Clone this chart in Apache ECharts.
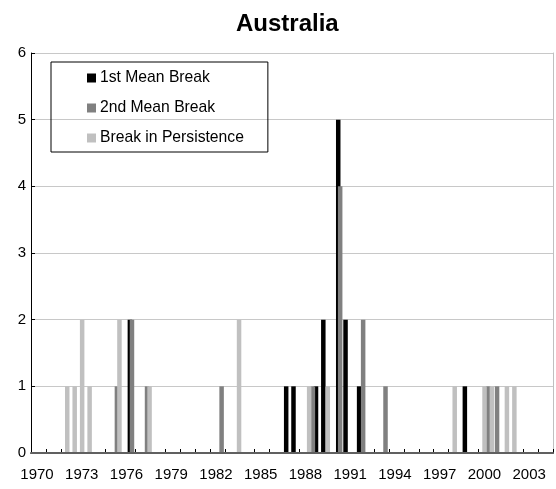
<!DOCTYPE html>
<html>
<head>
<meta charset="utf-8">
<script src="https://cdn.jsdelivr.net/npm/echarts@6/dist/echarts.min.js"></script>
<style>
html,body{margin:0;padding:0;background:#fff;}
#chart{width:556px;height:489px;}
</style>
</head>
<body>
<div id="chart"></div>
<script>
const titleText = 'Australia';
const seriesNames = ['1st Mean Break', '2nd Mean Break', 'Break in Persistence'];

const firstMeanYears  = [1976.63, 1987.11, 1987.60, 1989.11, 1989.60, 1990.60, 1991.09, 1992.00, 1999.09];
const firstMeanCounts = [2, 1, 1, 1, 2, 5, 2, 1, 1];

const secondMeanYears  = [1975.76, 1976.77, 1977.78, 1982.78, 1988.90, 1990.73, 1992.27, 1993.77, 2000.65, 2001.25];
const secondMeanCounts = [1, 2, 1, 1, 1, 4, 2, 1, 1, 1];

const persistYears  = [1972.43, 1972.93, 1973.43, 1973.93, 1975.93, 1977.95, 1983.95, 1988.65, 1989.90, 1998.41, 2000.41, 2000.90, 2001.91, 2002.41];
const persistCounts = [1, 1, 2, 1, 2, 1, 2, 1, 1, 1, 1, 1, 1, 1];

const xMin = 1970, xMax = 2005, labelStep = 3;
const yMin = 0, yMax = 6;

function pairs(xs, ys){ return xs.map((x,i)=>[x, ys[i]]); }

const FONT = '"Liberation Sans", Arial, sans-serif';
const colors = ['#000000', '#808080', '#c0c0c0'];

const chart = echarts.init(document.getElementById('chart'), null, {renderer:'canvas'});
const dataSets = [pairs(firstMeanYears, firstMeanCounts), pairs(secondMeanYears, secondMeanCounts), pairs(persistYears, persistCounts)];

chart.setOption({
  animation: false,
  backgroundColor: '#ffffff',
  title: {
    text: titleText, left: 231, top: 7,
    textStyle: {fontFamily: FONT, fontWeight: 'bold', fontSize: 24, color: '#000'}
  },
  legend: {
    orient: 'vertical', left: 51, top: 62,
    padding: [8, 24, 6, 36],
    itemGap: 14, itemWidth: 9, itemHeight: 9,
    borderColor: '#000', borderWidth: 1,
    icon: 'rect',
    textStyle: {fontFamily: FONT, fontSize: 15.7, color: '#000', padding: [0,0,0,-1]},
    data: seriesNames
  },
  grid: {left: 31, right: 0, top: 53, bottom: 36, containLabel: false},
  xAxis: [{
    type: 'value', min: xMin, max: xMax, interval: 1,
    axisLine: {show: true, onZero: false, lineStyle: {color: '#000', width: 1}},
    axisTick: {show: true, inside: true, length: 4, lineStyle: {color: '#000'}},
    splitLine: {show: false},
    axisLabel: {
      margin: 14, fontFamily: FONT, fontSize: 15, color: '#000',
      padding: [0, 0, 0, 12],
      formatter: v => ((v - xMin) % labelStep === 0 && v < xMax - 1) ? String(v) : ''
    }
  }, {
    type: 'value', min: xMin, max: xMax, position: 'top', z: 10,
    axisLine: {show: true, lineStyle: {color: '#606060', width: 2}},
    axisTick: {show: false}, axisLabel: {show: false}, splitLine: {show: false}
  }],
  yAxis: [{
    type: 'value', min: yMin, max: yMax, interval: 1,
    axisLine: {show: true, lineStyle: {color: '#000', width: 1}},
    axisTick: {show: true, inside: true, length: 4, lineStyle: {color: '#000'}},
    splitLine: {show: true, lineStyle: {color: '#c8c8c8', width: 1}},
    axisLabel: {margin: 5, fontFamily: FONT, fontSize: 15, color: '#000'}
  }, {
    type: 'value', min: yMin, max: yMax, position: 'right',
    axisLine: {show: true, lineStyle: {color: '#c0c0c0', width: 1}},
    axisTick: {show: false}, axisLabel: {show: false}, splitLine: {show: false}
  }],
  series: dataSets.map((d, i) => ({
    name: seriesNames[i], type: 'bar', data: d,
    xAxisIndex: 0, yAxisIndex: 0,
    barWidth: 4.5, barGap: '-100%',
    itemStyle: {color: colors[i]},
    z: 2 + i
  }))
});
</script>
</body>
</html>
